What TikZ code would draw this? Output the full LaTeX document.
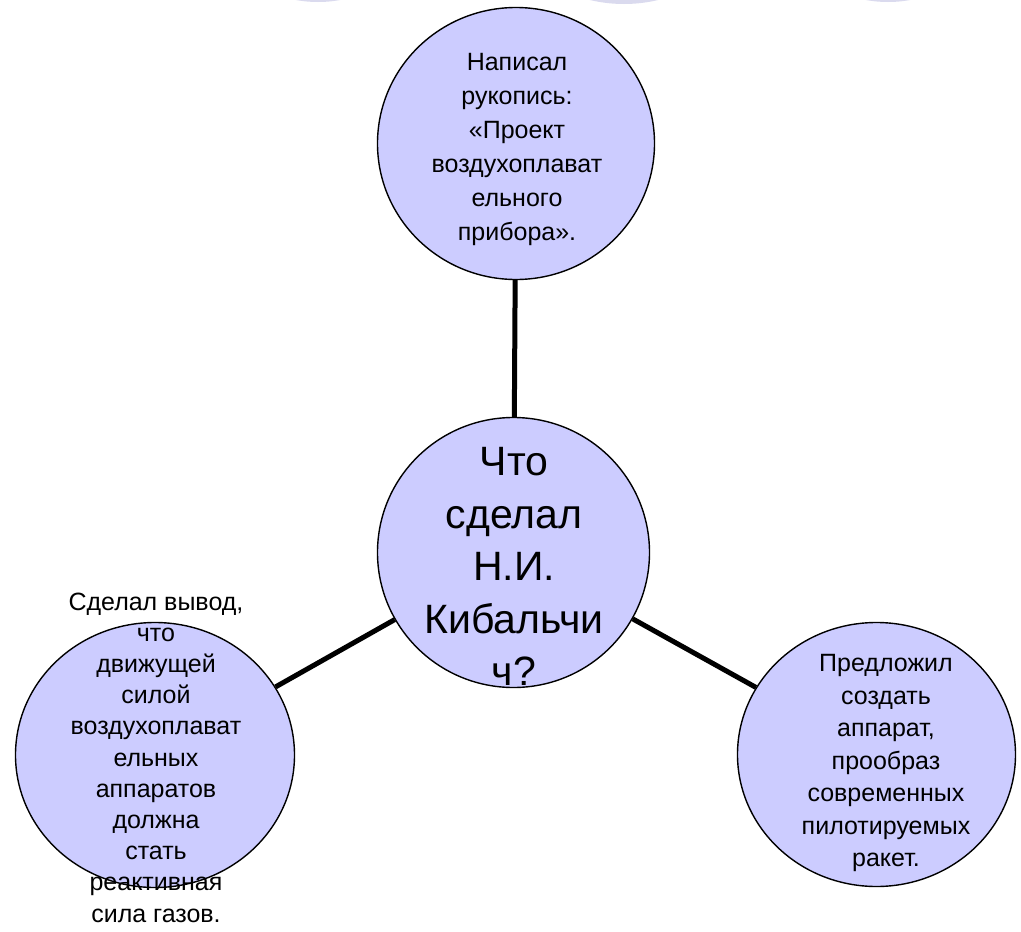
\documentclass[tikz,border=0pt]{standalone}
\usepackage{fontspec}
\setmainfont{Liberation Sans}
\usetikzlibrary{shapes.geometric}
\definecolor{bubblefill}{HTML}{CCCCFF}
\definecolor{ghost}{HTML}{DADAEE}
\begin{document}
\begin{tikzpicture}[x=1pt,y=-1pt,
  bubble/.style={ellipse, draw=black, line width=1.4pt, fill=bubblefill, inner sep=0pt},
  smalltext/.style={align=center, inner sep=0pt},
  bigtext/.style={align=center, font=\fontsize{41}{52.5}\selectfont, inner sep=0pt},
  link/.style={line width=5pt}]
\useasboundingbox (0,0) rectangle (1021,932);
\begin{scope}
  \clip (0,0) rectangle (1021,932);
  \fill[ghost] (318,-120) circle (122pt);
  \fill[ghost] (624,-142) circle (146pt);
  \fill[ghost] (888,-120) circle (122pt);
\end{scope}
\node[bubble, minimum width=277pt, minimum height=272pt] (nTop) at (516,143.5) {};
\node[bubble, minimum width=272pt, minimum height=270pt] (nHub) at (513.5,552.5) {};
\node[bubble, minimum width=279pt, minimum height=265pt] (nLeft) at (155,755) {};
\node[bubble, minimum width=278pt, minimum height=264pt] (nRight) at (876.5,754.5) {};
\draw[link] (nTop) -- (nHub);
\draw[link] (nHub) -- (nLeft);
\draw[link] (nHub) -- (nRight);
\node[smalltext, font=\fontsize{25}{34}\selectfont] (tTop) at (517,149.5) {Написал\\рукопись:\\ «Проект\\воздухоплават\\ельного\\прибора».};
\node[bigtext] (tHub) at (514,566.5) {Что\\сделал\\Н.И.\\Кибальчи\\ч?};
\node[smalltext, font=\fontsize{25}{31.2}\selectfont] (tLeft) at (156,757.5) {Сделал вывод,\\что\\движущей\\силой\\воздухоплават\\ельных\\аппаратов\\должна\\стать\\реактивная\\сила газов.};
\node[smalltext, font=\fontsize{25}{32.5}\selectfont] (tRight) at (886,763) {Предложил\\создать\\аппарат,\\прообраз\\современных\\пилотируемых\\ракет.};
\end{tikzpicture}
\end{document}
